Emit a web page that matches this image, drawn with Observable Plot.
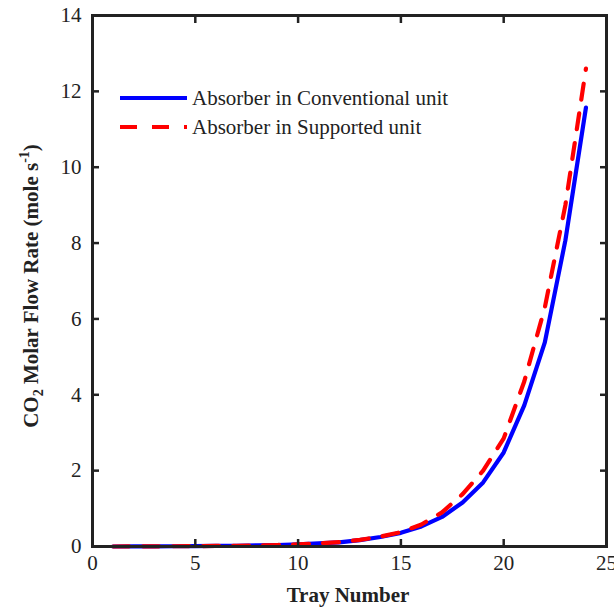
<!DOCTYPE html>
<html><head><meta charset="utf-8">
<script src="https://cdn.jsdelivr.net/npm/d3@7"></script>
<script src="https://cdn.jsdelivr.net/npm/@observablehq/plot@0.6"></script>
<style>
body{margin:0;background:#fff;}
#wrap{position:relative;width:614px;height:607px;}
</style>
</head><body><div id="wrap"></div>
<script>
const trays = [1,2,3,4,5,6,7,8,9,10,11,12,13,14,15,16,17,18,19,20,21,22,23,24];
const conventional = [0,0.002,0.004,0.007,0.01,0.015,0.02,0.03,0.04,0.055,0.08,0.11,0.17,0.25,0.36,0.53,0.78,1.16,1.69,2.48,3.72,5.38,8.07,11.57];
const supported = [0,0.002,0.004,0.007,0.01,0.015,0.02,0.03,0.04,0.056,0.082,0.115,0.175,0.26,0.38,0.58,0.9,1.38,2.0,2.85,4.35,6.3,9.0,12.6];
const seriesNames = ["Absorber in Conventional unit", "Absorber in Supported unit"];
const xTicks = [0,5,10,15,20,25];
const yTicks = [0,2,4,6,8,10,12,14];

const font = "'Liberation Serif', 'Times New Roman', serif";
const ink = "#222";
const noLabel = () => "";
const fs = 21;

const rowsA = trays.map((t,i)=>({tray:t, v:conventional[i]}));
const rowsB = trays.map((t,i)=>({tray:t, v:supported[i]}));

const W = 614, H = 607;
const chart = Plot.plot({
  width: W, height: H,
  marginTop: 15, marginRight: 8, marginBottom: 61, marginLeft: 92,
  style: {fontFamily: font, fontSize: fs + "px", color: ink, background: "#fff"},
  x: {domain:[0,25]},
  y: {domain:[0,14]},
  marks: [
    Plot.line(rowsA, {x:"tray", y:"v", stroke:"#0000ff", strokeWidth:4.2}),
    Plot.line(rowsB, {x:"tray", y:"v", stroke:"#ff0000", strokeWidth:4.2, strokeDasharray:"16,14"}),
    // tick labels
    Plot.axisX(xTicks, {anchor:"bottom", tickSize:0, tickPadding:9, label:null, fontSize:fs, fill:"#222"}),
    Plot.axisY(yTicks, {anchor:"left", tickSize:0, tickPadding:11, label:null, fontSize:fs, fill:"#222"}),
    // inward ticks on all four sides
    Plot.axisX(xTicks, {anchor:"bottom", tickSize:7, dy:-7, tickFormat:noLabel, label:null, stroke:ink, strokeWidth:2.5, strokeOpacity:1}),
    Plot.axisX(xTicks, {anchor:"top", tickSize:7, dy:7, tickFormat:noLabel, label:null, stroke:ink, strokeWidth:2.5, strokeOpacity:1}),
    Plot.axisY(yTicks, {anchor:"left", tickSize:7, dx:7, tickFormat:noLabel, label:null, stroke:ink, strokeWidth:2.5, strokeOpacity:1}),
    Plot.axisY(yTicks, {anchor:"right", tickSize:7, dx:-7, tickFormat:noLabel, label:null, stroke:ink, strokeWidth:2.5, strokeOpacity:1}),
    Plot.frame({stroke:ink, strokeWidth:3})
  ]
});
document.getElementById("wrap").appendChild(chart);

const svg = d3.select(chart);
// x label
svg.append("text").attr("x", 348).attr("y", 602)
  .attr("text-anchor","middle").attr("font-family", font).attr("font-weight","bold")
  .attr("font-size", fs).attr("fill", ink).text("Tray Number");
// y label with subscript and superscript
const yl = svg.append("text").attr("transform","translate(38,286) rotate(-90)")
  .attr("text-anchor","middle").attr("font-family", font).attr("font-weight","bold")
  .attr("font-size", fs).attr("fill", ink);
yl.append("tspan").text("CO");
yl.append("tspan").attr("font-size", 14).attr("dy", 5).text("2");
yl.append("tspan").attr("dy", -5).text(" Molar Flow Rate (mole s");
yl.append("tspan").attr("font-size", 14).attr("dy", -9).text("-1");
yl.append("tspan").attr("dy", 9).text(")");

// legend
const lg = svg.append("g").attr("font-family", font).attr("font-size", fs).attr("fill", ink)
  .attr("text-anchor", "start");
const legendItems = [
  {name: seriesNames[0], color:"#0000ff", dash:null, y:98},
  {name: seriesNames[1], color:"#ff0000", dash:"17,15", y:127}
];
legendItems.forEach(it => {
  const l = lg.append("line").attr("x1",120).attr("x2",187).attr("y1",it.y).attr("y2",it.y)
    .attr("stroke", it.color).attr("stroke-width", 4.2);
  if (it.dash) l.attr("stroke-dasharray", it.dash);
  lg.append("text").attr("x", 192).attr("y", it.y + 7).attr("text-anchor","start").text(it.name);
});
</script>
</body></html>
